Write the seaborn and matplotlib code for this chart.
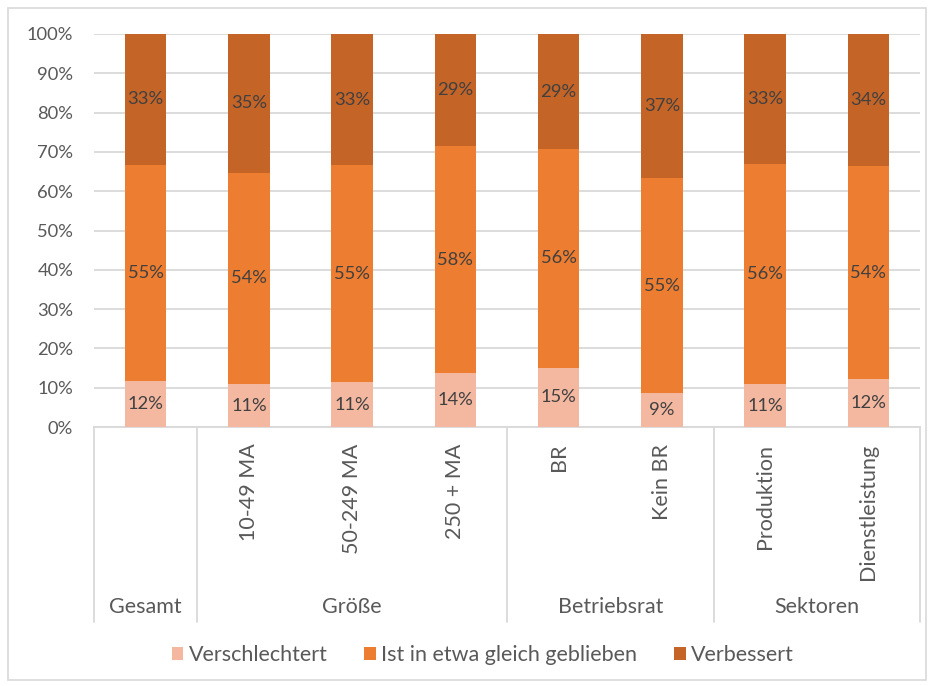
import matplotlib
matplotlib.use("Agg")
import matplotlib.pyplot as plt
import matplotlib.transforms as mtransforms
from matplotlib.patches import Patch, Rectangle
import numpy as np
import pandas as pd
import seaborn as sns

categories = ["Gesamt_", "10-49 MA", "50-249 MA", "250 + MA", "BR", "Kein BR", "Produktion", "Dienstleistung"]
tick_labels = ["", "10-49 MA", "50-249 MA", "250 + MA", "BR", "Kein BR", "Produktion", "Dienstleistung"]
groups = ["Gesamt", "Größe", "Betriebsrat", "Sektoren"]
group_sizes = [1, 3, 2, 2]

verschlechtert = [11.7, 10.9, 11.4, 13.8, 15.1, 8.6, 10.9, 12.2]
gleich = [55.0, 53.8, 55.2, 57.6, 55.6, 54.7, 56.1, 54.2]
verbessert = [33.3, 35.3, 33.4, 28.6, 29.3, 36.7, 33.0, 33.6]

series_names = ["Verschlechtert", "Ist in etwa gleich geblieben", "Verbessert"]
colors = ["#F4B8A1", "#ED7D31", "#C56427"]

sns.set_theme(style="white")
plt.rcParams["font.family"] = ["Lato", "DejaVu Sans"]

FS = 13.2    # numbers
FT = 15.5    # words
TXT = "#595959"
GRID = "#D9D9D9"

fig = plt.figure(figsize=(9.34, 6.86), dpi=100)
ax = fig.add_axes([94 / 934, 1 - 427 / 686, (920 - 94) / 934, (427 - 34) / 686])

v1 = np.array(verschlechtert)
v2 = np.array(gleich)
v3 = np.array(verbessert)
layers = [v1 + v2 + v3, v1 + v2, v1]
layer_colors = [colors[2], colors[1], colors[0]]
for h, c in zip(layers, layer_colors):
    df = pd.DataFrame({"cat": categories, "val": h})
    sns.barplot(data=df, x="cat", y="val", order=categories, color=c,
                width=0.4, saturation=1, edgecolor="none", ax=ax, zorder=3)

# segment labels
bottoms = [np.zeros(8), v1, v1 + v2]
for vals, bot in zip([v1, v2, v3], bottoms):
    for i, (v, b) in enumerate(zip(vals, bot)):
        ax.text(i, b + v / 2, f"{v:.0f}%", ha="center", va="center",
                fontsize=FS, color="#404040", zorder=5)

ax.set_ylim(0, 100)
ax.set_xlim(-0.5, 7.5)
ax.set_yticks(np.arange(0, 101, 10))
ax.set_yticklabels([f"{t}%" for t in range(0, 101, 10)], fontsize=FS, color=TXT)
ax.yaxis.grid(True, color=GRID, linewidth=1.3, zorder=0)
ax.set_axisbelow(True)
ax.set_xticks(range(8))
ax.set_xticklabels(tick_labels, rotation=90, fontsize=FT, color=TXT, va="top", ha="center")
ax.tick_params(axis="x", length=0, pad=12)
ax.tick_params(axis="y", length=0, pad=15)
ax.set_xlabel("")
ax.set_ylabel("")
for s in ["top", "right", "left"]:
    ax.spines[s].set_visible(False)
ax.spines["bottom"].set_color(GRID)
ax.spines["bottom"].set_linewidth(1.3)

# multi-level category separators and group labels
trans = mtransforms.blended_transform_factory(ax.transData, ax.transAxes)
y_low = -(622 - 427) / (427 - 34)
bounds = np.concatenate([[0], np.cumsum(group_sizes)]) - 0.5
for b in bounds:
    ax.plot([b, b], [0, y_low], transform=trans, color=GRID, lw=1.3, clip_on=False)
y_grp = -(607 - 427) / (427 - 34)
for g, a, b in zip(groups, bounds[:-1], bounds[1:]):
    ax.text((a + b) / 2, y_grp, g, transform=trans, ha="center", va="center",
            fontsize=FT, color=TXT)

handles = [Patch(facecolor=c, edgecolor="none") for c in colors]
fig.legend(handles, series_names, loc="center", bbox_to_anchor=(0.517, 1 - 655 / 686),
           ncol=3, frameon=False, fontsize=FT, handlelength=0.55, handleheight=0.55,
           handletextpad=0.25, columnspacing=1.7, labelcolor=TXT)

fig.patches.append(Rectangle((8 / 934, 6 / 686), 918 / 934, 672 / 686, transform=fig.transFigure,
                             fill=False, edgecolor="#D9D9D9", linewidth=1.2))

fig.savefig("out.png", dpi=100, facecolor="white")
